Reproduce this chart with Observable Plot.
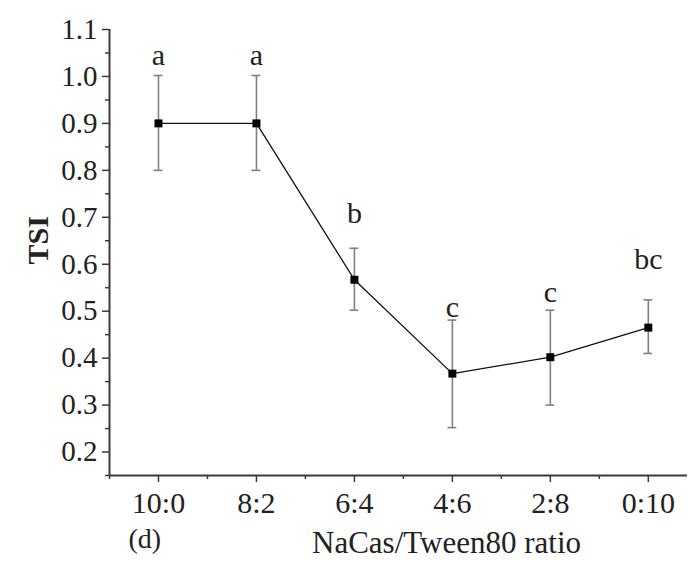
<!DOCTYPE html>
<html>
<head>
<meta charset="utf-8">
<script src="https://cdn.jsdelivr.net/npm/d3@7"></script>
<script src="https://cdn.jsdelivr.net/npm/@observablehq/plot@0.6"></script>
<style>
  html, body { margin: 0; padding: 0; background: #fff; }
  #chart svg { display: block; }
</style>
</head>
<body>
<div id="chart"></div>
<script>
const ratios = ["10:0", "8:2", "6:4", "4:6", "2:8", "0:10"];
const tsi = [0.900, 0.900, 0.567, 0.367, 0.402, 0.465];
const errLow = [0.800, 0.800, 0.502, 0.252, 0.300, 0.410];
const errHigh = [1.002, 1.002, 0.634, 0.481, 0.502, 0.524];
const letters = ["a", "a", "b", "c", "c", "bc"];
const letterY = [1.045, 1.045, 0.709, 0.509, 0.540, 0.611];
const yTicks = [0.2, 0.3, 0.4, 0.5, 0.6, 0.7, 0.8, 0.9, 1.0, 1.1];
const yMinor = [0.15, 0.25, 0.35, 0.45, 0.55, 0.65, 0.75, 0.85, 0.95, 1.05];
const xMinor = [-0.5, 0.5, 1.5, 2.5, 3.5, 4.5];

const data = ratios.map((r, i) => ({
  i, r, v: tsi[i], lo: errLow[i], hi: errHigh[i], lab: letters[i], ly: letterY[i]
}));

const font = "Liberation Serif, Times New Roman, serif";
const axisColor = "#3a3a3a";
const textColor = "#222";

const chart = Plot.plot({
  width: 688,
  height: 561,
  marginLeft: 109,
  marginRight: 1,
  marginTop: 29,
  marginBottom: 86,
  style: { fontFamily: font, fontSize: "29px", color: textColor, background: "#fff" },
  x: { domain: [-0.5, 5.4], axis: null },
  y: { domain: [0.15, 1.1], axis: null },
  marks: [
    // axis lines
    Plot.ruleX([-0.5], { stroke: axisColor, strokeWidth: 2 }),
    Plot.ruleY([0.15], { stroke: axisColor, strokeWidth: 2 }),
    // y axis ticks
    Plot.axisY({ ticks: yTicks, tickSize: 7, tickPadding: 5, tickFormat: d3.format(".1f"),
      stroke: axisColor, strokeWidth: 1.5, fontSize: 29, fill: textColor, label: null }),
    Plot.axisY({ ticks: yMinor, tickSize: 4, tickFormat: () => "", stroke: axisColor, strokeWidth: 1.5, label: null }),
    // x axis ticks
    Plot.axisX({ ticks: d3.range(ratios.length), tickSize: 7, tickPadding: 9,
      tickFormat: i => ratios[i], stroke: axisColor, strokeWidth: 1.5, fontSize: 30, fill: textColor, label: null }),
    Plot.axisX({ ticks: xMinor, tickSize: 4, tickFormat: () => "", stroke: axisColor, strokeWidth: 1.5, label: null }),
    // error bars
    Plot.ruleX(data, { x: "i", y1: "lo", y2: "hi", stroke: "#808080", strokeWidth: 1.6 }),
    Plot.ruleY(data, { y: "lo", x1: d => d.i - 0.045, x2: d => d.i + 0.045, stroke: "#808080", strokeWidth: 1.6 }),
    Plot.ruleY(data, { y: "hi", x1: d => d.i - 0.045, x2: d => d.i + 0.045, stroke: "#808080", strokeWidth: 1.6 }),
    // line and points
    Plot.line(data, { x: "i", y: "v", stroke: "#111", strokeWidth: 1.3 }),
    Plot.dot(data, { x: "i", y: "v", symbol: "square", r: 4.5, fill: "#000", stroke: "none" }),
    // significance letters
    Plot.text(data, { x: "i", y: "ly", text: "lab", fontSize: 30, fill: textColor }),
    // axis titles
    Plot.text(["TSI"], { frameAnchor: "left", dx: -71, dy: 12, rotate: -90, fontSize: 30, fontWeight: "bold", fill: textColor }),
    Plot.text(["NaCas/Tween80 ratio"], { frameAnchor: "bottom", dx: 48, dy: 77, fontSize: 31, fill: textColor }),
    Plot.text(["(d)"], { frameAnchor: "bottom-left", dx: 19, dy: 72, fontSize: 28, fill: textColor })
  ]
});
document.getElementById("chart").appendChild(chart);
</script>
</body>
</html>
